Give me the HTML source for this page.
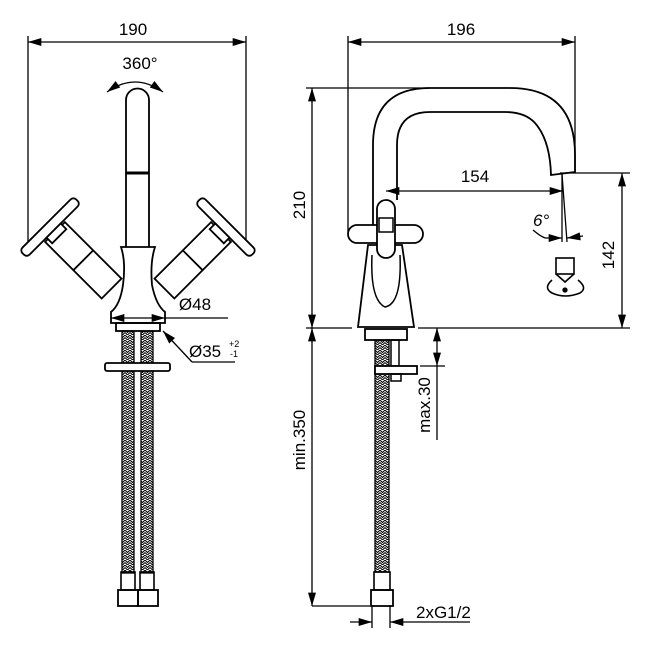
<!DOCTYPE html>
<html><head><style>html,body{margin:0;padding:0;background:#fff}svg{display:block}
text{font-family:"Liberation Sans",sans-serif;fill:#000}</style></head><body>
<svg width="650" height="650" viewBox="0 0 650 650" xmlns="http://www.w3.org/2000/svg">
<defs>
<marker id="a" viewBox="0 0 10 6" refX="10" refY="3" markerWidth="16" markerHeight="8" markerUnits="userSpaceOnUse" orient="auto-start-reverse"><path d="M0,0L10,3L0,6z" fill="#000"/></marker>
<pattern id="h" width="5" height="5" patternUnits="userSpaceOnUse"><path d="M0,0L2.5,2.5L5,0M0,2.5L2.5,5L5,2.5" stroke="#000" stroke-width="1" fill="none"/></pattern>
</defs>
<g stroke="#000" stroke-width="1.3" fill="none">
<!-- LEFT VIEW -->
<line x1="28" y1="36" x2="28" y2="255"/><line x1="246" y1="36" x2="246" y2="255"/>
<line x1="28" y1="42" x2="246" y2="42" marker-start="url(#a)" marker-end="url(#a)"/>
<path d="M107,92 Q135,72 163,92" marker-start="url(#a)" marker-end="url(#a)"/>
<path d="M126,247 V100 A11.5,11.5 0 0 1 149,100 V247" stroke-width="1.8"/>
<line x1="126" y1="173" x2="149" y2="173" stroke-width="3"/>
<g transform="translate(55,232) rotate(45)" stroke-width="1.8">
<rect x="0" y="-14" width="80" height="28" fill="#fff"/><line x1="40" y1="-14" x2="40" y2="14"/>
<rect x="-12" y="-38" width="10" height="76" rx="4" fill="#fff"/><rect x="-2" y="-10" width="8" height="20" fill="#fff"/>
</g>
<g transform="translate(221,232) rotate(135)" stroke-width="1.8">
<rect x="0" y="-14" width="80" height="28" fill="#fff"/><line x1="40" y1="-14" x2="40" y2="14"/>
<rect x="-12" y="-38" width="10" height="76" rx="4" fill="#fff"/><rect x="-2" y="-10" width="8" height="20" fill="#fff"/>
</g>
<path d="M121,247 H155 Q150,262 152,285 Q156,305 165,312 V323 H111 V312 Q120,305 123,285 Q126,262 121,247z" fill="#fff" stroke-width="1.8"/>
<line x1="111" y1="318" x2="165" y2="318" marker-start="url(#a)" marker-end="url(#a)"/>
<line x1="165" y1="318" x2="228" y2="318"/>
<rect x="116" y="323" width="44" height="8" stroke-width="1.8"/>
<path d="M192,362 L163,331" marker-end="url(#a)"/><line x1="192" y1="362" x2="235" y2="362"/>
<rect x="122" y="331" width="12" height="242" fill="url(#h)"/><rect x="141" y="331" width="12" height="242" fill="url(#h)"/>
<rect x="105" y="363" width="65" height="8" rx="2" fill="#fff" stroke-width="1.8"/>
<rect x="121" y="572" width="14" height="18" stroke-width="1.6"/><rect x="140" y="572" width="14" height="18" stroke-width="1.6"/>
<rect x="118" y="590" width="20" height="16" stroke-width="1.8"/><rect x="138" y="590" width="20" height="16" stroke-width="1.8"/>
<!-- RIGHT VIEW -->
<line x1="348" y1="36" x2="348" y2="232"/><line x1="575" y1="36" x2="575" y2="172"/>
<line x1="348" y1="42" x2="575" y2="42" marker-start="url(#a)" marker-end="url(#a)"/>
<line x1="306" y1="88" x2="430" y2="88"/>
<line x1="312" y1="88" x2="312" y2="328" marker-start="url(#a)" marker-end="url(#a)"/>
<line x1="306" y1="328" x2="352" y2="328"/><line x1="418" y1="328" x2="630" y2="328"/>
<path d="M373,228 V145 Q373,88 430,88 H510 Q575,88 575,155 V172 L551,175 Q550,140 535,123 Q525,112 505,112 H430 Q397,112 397,145 V200" stroke-width="1.8"/>
<line x1="386" y1="191" x2="563" y2="191" marker-start="url(#a)" marker-end="url(#a)"/>
<line x1="562" y1="174" x2="567" y2="242"/><line x1="562" y1="174" x2="562" y2="242"/>
<path d="M533,230 Q540,236 545,238"/>
<line x1="545" y1="238" x2="562" y2="238" marker-end="url(#a)"/><line x1="583" y1="236" x2="567" y2="238" marker-end="url(#a)"/>
<line x1="560" y1="173" x2="630" y2="173"/>
<line x1="622" y1="173" x2="622" y2="328" marker-start="url(#a)" marker-end="url(#a)"/>
<path d="M358,327 L368,245 H402 L414,327z" fill="#fff" stroke-width="1.8"/>
<path d="M372,255 Q370,300 385,307 Q402,304 400,255" stroke-width="1.5"/>
<rect x="348" y="225" width="75" height="18" rx="9" fill="#fff" stroke-width="1.8"/>
<rect x="377" y="200" width="18" height="58" rx="9" fill="#fff" stroke-width="1.8"/>
<rect x="379" y="218" width="14" height="14" stroke-width="1.5"/>
<rect x="365" y="329" width="42" height="11" stroke-width="1.8"/>
<rect x="375" y="340" width="14" height="232" fill="url(#h)"/>
<rect x="391" y="340" width="8" height="26" stroke-width="1.5"/>
<rect x="375" y="366" width="42" height="8" fill="#fff" stroke-width="1.8"/>
<rect x="391" y="374" width="10" height="7" stroke-width="1.5"/>
<line x1="437" y1="328" x2="437" y2="366" marker-start="url(#a)" marker-end="url(#a)"/>
<line x1="420" y1="366" x2="445" y2="366"/><line x1="437" y1="366" x2="437" y2="440"/>
<line x1="312" y1="328" x2="312" y2="606" marker-start="url(#a)" marker-end="url(#a)"/>
<line x1="312" y1="606" x2="370" y2="606"/>
<rect x="374" y="572" width="16" height="18" stroke-width="1.6"/>
<rect x="371" y="590" width="22" height="16" stroke-width="1.8"/>
<line x1="372" y1="606" x2="372" y2="628"/><line x1="390" y1="606" x2="390" y2="628"/>
<line x1="350" y1="622" x2="372" y2="622" marker-end="url(#a)"/>
<line x1="470" y1="622" x2="390" y2="622" marker-end="url(#a)"/>
<!-- key -->
<rect x="556" y="258" width="18" height="16" stroke-width="1.6"/>
<path d="M556,274 L565,282 L574,274 M552,280 Q543,288 552,293 Q565,299 580,293 Q588,288 578,280" stroke-width="1.6"/>
<circle cx="565" cy="290" r="2" fill="#000"/>
</g>
<g font-size="17">
<text x="133" y="35" text-anchor="middle">190</text>
<text x="140" y="69" text-anchor="middle">360°</text>
<text x="195" y="310" text-anchor="middle">Ø48</text>
<text x="189" y="357">Ø35</text>
<text x="229" y="347" font-size="9">+2</text><text x="230" y="357" font-size="9">-1</text>
<text x="461" y="35" text-anchor="middle">196</text>
<text x="475" y="182" text-anchor="middle">154</text>
<text x="533" y="226" font-style="italic">6°</text>
<text transform="translate(305,205) rotate(-90)" text-anchor="middle">210</text>
<text transform="translate(614,255) rotate(-90)" text-anchor="middle">142</text>
<text transform="translate(430,405) rotate(-90)" text-anchor="middle">max.30</text>
<text transform="translate(305,440) rotate(-90)" text-anchor="middle">min.350</text>
<text x="416" y="618">2xG1/2</text>
</g>
</svg>
</body></html>
